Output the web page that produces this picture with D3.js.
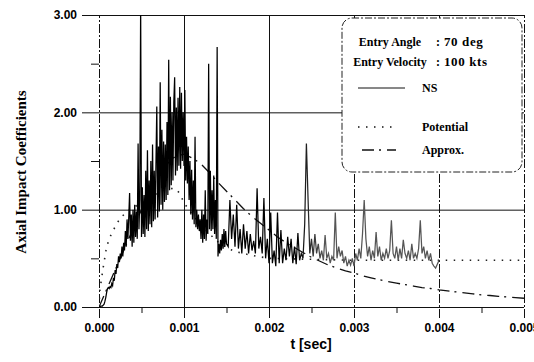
<!DOCTYPE html>
<html>
<head>
<meta charset="utf-8">
<script src="https://d3js.org/d3.v7.min.js"></script>
<style>
  body { margin: 0; background: #fff; }
  svg { display: block; }
</style>
</head>
<body>
<script>
// NS signal, first part: every 0.00001 s from t = 0 to 0.0015
var nsAStart = 0, nsAStep = 0.00001
var nsA = [
  0.00, 0.00, 0.01, 0.01, 0.01, 0.02, 0.03, 0.06, 0.10, 0.15,
  0.19, 0.20, 0.19, 0.21, 0.20, 0.24, 0.22, 0.30, 0.27, 0.38,
  0.34, 0.44, 0.40, 0.52, 0.46, 0.55, 0.50, 0.62, 0.52, 0.66,
  0.58, 0.78, 0.62, 0.90, 0.70, 0.92, 1.17, 0.68, 0.95, 0.62,
  1.00, 0.66, 1.05, 0.72, 0.98, 0.70, 1.68, 0.80, 1.10, 3.10,
  0.72, 1.23, 0.75, 1.15, 0.72, 1.40, 0.80, 1.61, 0.78, 1.30,
  0.85, 1.50, 0.82, 1.67, 0.88, 1.40, 0.90, 1.47, 2.06, 0.92,
  1.65, 0.98, 2.31, 1.05, 1.82, 1.00, 1.70, 1.08, 1.67, 1.10,
  1.90, 1.15, 2.54, 1.20, 2.16, 1.25, 2.00, 1.30, 2.10, 2.36,
  1.35, 2.05, 1.40, 2.15, 1.45, 2.26, 1.42, 2.20, 1.50, 2.00,
  1.45, 2.23, 1.30, 1.75, 1.27, 1.65, 1.10, 1.50, 0.95, 1.41,
  0.90, 1.30, 0.85, 1.75, 0.82, 1.00, 0.80, 0.95, 0.78, 0.90,
  0.70, 1.00, 0.66, 0.95, 0.70, 1.20, 0.68, 0.90, 0.75, 2.50,
  0.80, 1.40, 0.78, 1.20, 0.80, 1.35, 0.75, 1.10, 0.70, 2.67,
  0.52, 0.65, 0.55, 0.69, 0.58, 0.75, 0.60, 0.80, 0.62, 0.78,
  0.65
]
// NS signal, second part: every 0.00002 s from t = 0.00152 to 0.004
var nsBStart = 0.00152, nsBStep = 0.00002
var nsB = [
  0.62, 1.10, 0.70, 0.95,
  0.62, 1.05, 0.60, 0.80, 0.55, 0.85, 0.60, 0.78, 0.55, 0.75,
  0.58, 0.68, 0.55, 1.22, 0.60, 0.72, 0.55, 1.12, 0.50, 0.70,
  0.45, 0.97, 0.45, 0.58, 0.42, 0.97, 0.45, 0.79, 0.45, 0.60,
  0.48, 0.72, 0.52, 0.70, 0.45, 0.62, 0.44, 0.76, 0.48, 0.55,
  0.50, 0.85, 1.68, 1.10, 0.55, 0.70, 0.52, 0.75, 0.55, 0.65,
  0.50, 0.58, 0.48, 0.74, 0.50, 0.55, 0.45, 0.52, 0.48, 0.97,
  0.50, 0.62, 0.52, 0.58, 0.45, 0.52, 0.42, 0.48, 0.43, 0.50,
  0.42, 0.55, 0.48, 0.60, 0.50, 0.75, 1.10, 0.70, 0.52, 0.62,
  0.48, 0.58, 0.50, 0.77, 0.52, 0.62, 0.48, 0.55, 0.50, 0.60,
  0.50, 0.58, 0.89, 0.55, 0.50, 0.62, 0.48, 0.60, 0.50, 0.69,
  0.55, 0.50, 0.58, 0.48, 0.65, 0.50, 0.55, 0.50, 0.60, 0.89,
  0.55, 0.62, 0.50, 0.58, 0.48, 0.55, 0.45, 0.42, 0.40, 0.44,
  0.48
]

// potential theory curve
var potT = [0, 0.00001, 0.00005, 0.00009, 0.00013, 0.00017, 0.00021, 0.00027, 0.00033,
  0.0004, 0.0005, 0.0006, 0.0007, 0.0008, 0.00088, 0.00092, 0.00096, 0.001,
  0.0011, 0.0012, 0.0013, 0.0014, 0.0015, 0.0016, 0.0018, 0.002, 0.0025,
  0.003, 0.0035, 0.004, 0.0045, 0.005]
var potV = [0, 0.17, 0.41, 0.62, 0.72, 0.79, 0.86, 0.93, 0.98,
  1.02, 1.07, 1.12, 1.17, 1.21, 1.22, 1.20, 1.15, 1.07,
  0.95, 0.84, 0.75, 0.67, 0.61, 0.57, 0.53, 0.50, 0.49,
  0.48, 0.48, 0.48, 0.48, 0.48]

// approximate formula curve
var apxT = [0, 0.0001, 0.0002, 0.0003, 0.0004, 0.0005, 0.0006, 0.0007, 0.0008, 0.0009,
  0.001, 0.0011, 0.0012, 0.0013, 0.0014, 0.0015, 0.0016, 0.0017, 0.0018, 0.0019,
  0.002, 0.0021, 0.0022, 0.0023, 0.0024, 0.0025, 0.0026, 0.0027, 0.0028, 0.0029,
  0.003, 0.0031, 0.0032, 0.0033, 0.0034, 0.0035, 0.0036, 0.0037, 0.0038, 0.0039,
  0.004, 0.0041, 0.0042, 0.0043, 0.0044, 0.0045, 0.0046, 0.0047, 0.0048, 0.0049, 0.005]
var apxV = [0, 0.20, 0.40, 0.60, 0.80, 1.00, 1.18, 1.34, 1.47, 1.55,
  1.57, 1.53, 1.47, 1.38, 1.28, 1.19, 1.10, 1.01, 0.93, 0.86,
  0.79, 0.72, 0.66, 0.61, 0.56, 0.51, 0.47, 0.43, 0.40, 0.37,
  0.35, 0.32, 0.30, 0.28, 0.26, 0.245, 0.23, 0.215, 0.20, 0.19,
  0.175, 0.165, 0.155, 0.145, 0.135, 0.125, 0.118, 0.11, 0.103, 0.097, 0.09]

var xTicks = [0, 0.001, 0.002, 0.003, 0.004, 0.005]
var xMinor = [0.0005, 0.0015, 0.0025, 0.0035, 0.0045]
var yTicks = [0, 1, 2, 3]
var yMinor = [0.5, 1.5, 2.5]

var W = 534, H = 362
var pL = 99, pR = 524, pT = 15, pB = 307

var svg = d3.select("body").append("svg")
    .attr("width", W)
    .attr("height", H)

var x = d3.scaleLinear().domain([0, 0.005]).range([pL, pR])
var y = d3.scaleLinear().domain([0, 3]).range([pB, pT])

var sans = "'Liberation Sans', Arial, sans-serif"
var serif = "'Liberation Serif', 'Times New Roman', serif"

var dashed = function(t) { return t >= 0.003 || t == 0 }

// vertical grid + x labels
var gx = svg.append("g")
    .attr("transform", "translate(0," + (pB + 11) + ")")
    .call(d3.axisBottom(x).tickValues(xTicks).tickSize(-(pB + 11 - pT)).tickPadding(5)
      .tickFormat(d3.format(".3f")))
gx.select(".domain").remove()
gx.selectAll(".tick line")
    .attr("stroke", "#111")
    .attr("stroke-dasharray", function(d) { return dashed(d) ? "9,2,2,2" : null })
gx.selectAll(".tick text")
    .style("font-family", sans)
    .style("font-weight", "bold")
    .style("font-size", "12px")
    .style("fill", "#000")

// horizontal grid + y labels
var gy = svg.append("g")
    .attr("transform", "translate(82,0)")
    .call(d3.axisLeft(y).tickValues(yTicks).tickSize(-(pR - 82)).tickPadding(5)
      .tickFormat(d3.format(".2f")))
gy.select(".domain").remove()
gy.selectAll(".tick line").attr("stroke", "#111")
gy.selectAll(".tick text")
    .style("font-family", sans)
    .style("font-weight", "bold")
    .style("font-size", "12px")
    .style("fill", "#000")

// minor ticks
var my = svg.append("g")
    .attr("transform", "translate(" + pL + ",0)")
    .call(d3.axisLeft(y).tickValues(yMinor).tickSize(8).tickFormat(""))
my.select(".domain").remove()
my.selectAll(".tick line").attr("stroke", "#111")

var mx = svg.append("g")
    .attr("transform", "translate(0," + pB + ")")
    .call(d3.axisBottom(x).tickValues(xMinor).tickSize(6).tickFormat(""))
mx.select(".domain").remove()
mx.selectAll(".tick line").attr("stroke", "#111")

// clip for the curves
var defs = svg.append("defs")
defs.append("clipPath").attr("id", "plot")
  .append("rect")
    .attr("x", pL).attr("y", pT)
    .attr("width", pR - pL).attr("height", pB - pT)

// the scanned NS trace fades to grey in its tail
var grad = defs.append("linearGradient")
    .attr("id", "nsFade")
    .attr("gradientUnits", "userSpaceOnUse")
    .attr("x1", x(0)).attr("x2", x(0.004))
    .attr("y1", 0).attr("y2", 0)
grad.append("stop").attr("offset", 0.58).attr("stop-color", "#000")
grad.append("stop").attr("offset", 0.66).attr("stop-color", "#555")

var line = d3.line()
    .x(function(d) { return x(d[0]) })
    .y(function(d) { return y(d[1]) })

var nsData = nsA.map(function(v, i) { return [nsAStart + i * nsAStep, v] })
  .concat(nsB.map(function(v, i) { return [nsBStart + i * nsBStep, v] }))
var potData = potT.map(function(t, i) { return [t, potV[i]] })
var apxData = apxT.map(function(t, i) { return [t, apxV[i]] })

var curves = svg.append("g").attr("clip-path", "url(#plot)")

curves.append("path")
    .datum(potData)
    .attr("d", line)
    .attr("fill", "none")
    .attr("stroke", "#222")
    .attr("stroke-width", 1.6)
    .attr("stroke-dasharray", "1.5,6.5")

curves.append("path")
    .datum(apxData)
    .attr("d", line)
    .attr("fill", "none")
    .attr("stroke", "#111")
    .attr("stroke-width", 1.3)
    .attr("stroke-dasharray", "12,5,2,6")

curves.append("path")
    .datum(nsData)
    .attr("d", line)
    .attr("fill", "none")
    .attr("stroke", "url(#nsFade)")
    .attr("stroke-width", 1.25)

// legend
var lg = svg.append("g")

lg.append("rect")
    .attr("x", 342).attr("y", 18)
    .attr("width", 180).attr("height", 154)
    .attr("rx", 10).attr("ry", 10)
    .attr("fill", "#fff")
    .attr("stroke", "#222")
    .attr("stroke-width", 1)
    .attr("stroke-dasharray", "7,2,2,2")

var info = [["Entry Angle", "70 deg", 46], ["Entry Velocity", "100 kts", 66]]
info.forEach(function(r) {
  lg.append("text")
      .attr("x", 390).attr("y", r[2])
      .attr("text-anchor", "middle")
      .style("font-family", serif).style("font-weight", "bold").style("font-size", "12px")
      .text(r[0])
  lg.append("text")
      .attr("x", 436).attr("y", r[2])
      .style("font-family", serif).style("font-weight", "bold").style("font-size", "12px")
      .text(":")
  lg.append("text")
      .attr("x", 444).attr("y", r[2])
      .style("font-family", serif).style("font-weight", "bold").style("font-size", "13px")
      .style("letter-spacing", "0.6px")
      .text(r[1])
})

var keys = [
  { name: "NS", y: 92, dash: null, w: 1, x0: 358, x1: 405 },
  { name: "Potential", y: 131, dash: "1.5,6.5", w: 1.6, x0: 358, x1: 392 },
  { name: "Approx.", y: 154, dash: "12,5,2,6", w: 1.3, x0: 362, x1: 396 }
]
keys.forEach(function(k) {
  lg.append("line")
      .attr("x1", k.x0).attr("x2", k.x1)
      .attr("y1", k.y - 4).attr("y2", k.y - 4)
      .attr("stroke", "#111")
      .attr("stroke-width", k.w)
      .attr("stroke-dasharray", k.dash)
  lg.append("text")
      .attr("x", 422).attr("y", k.y)
      .style("font-family", serif).style("font-weight", "bold").style("font-size", "12px")
      .text(k.name)
})

// axis titles
svg.append("text")
    .attr("transform", "translate(26,172) rotate(-90)")
    .attr("text-anchor", "middle")
    .style("font-family", serif)
    .style("font-weight", "bold")
    .style("font-size", "15px")
    .text("Axial Impact Coefficients")

svg.append("text")
    .attr("x", 311).attr("y", 349)
    .attr("text-anchor", "middle")
    .style("font-family", sans)
    .style("font-weight", "bold")
    .style("font-size", "14px")
    .text("t [sec]")
</script>
</body>
</html>
